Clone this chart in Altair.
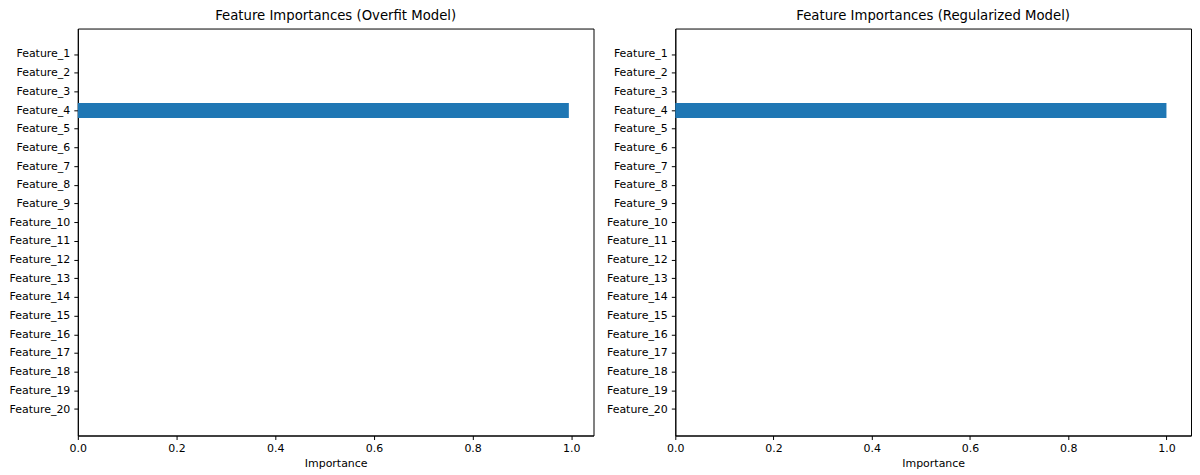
import altair as alt
import pandas as pd

features = [f"Feature_{i}" for i in range(1, 21)]
overfit_importance = [0.0, 0.0, 0.0, 0.995, 0.0, 0.0, 0.0, 0.0, 0.0, 0.0,
                      0.0, 0.0, 0.0, 0.0, 0.0, 0.0, 0.0, 0.0, 0.0, 0.0]
regularized_importance = [0.0, 0.0, 0.0, 1.0, 0.0, 0.0, 0.0, 0.0, 0.0, 0.0,
                          0.0, 0.0, 0.0, 0.0, 0.0, 0.0, 0.0, 0.0, 0.0, 0.0]
tick_values = [0.0, 0.2, 0.4, 0.6, 0.8, 1.0]

FONT = "DejaVu Sans"


def panel(values, title, xmax):
    df = pd.DataFrame({"Feature": features, "Importance": values})
    return alt.Chart(df).mark_bar(color="#1f77b4").encode(
        x=alt.X(
            "Importance:Q",
            scale=alt.Scale(domain=[0, xmax], nice=False, zero=True),
            axis=alt.Axis(values=tick_values, format=".1f", title="Importance",
                          grid=False, tickSize=4, labelPadding=3, titlePadding=4,
                          labelFlush=False),
        ),
        y=alt.Y(
            "Feature:N",
            sort=features,
            scale=alt.Scale(paddingInner=0.2, paddingOuter=0.99),
            axis=alt.Axis(title=None, grid=False, tickSize=4, labelPadding=4),
        ),
    ).properties(
        width=517,
        height=408,
        title=alt.TitleParams(title, fontSize=13.3, fontWeight="normal",
                              font=FONT, color="black", offset=6),
    )


left = panel(overfit_importance, "Feature Importances (Overfit Model)", 1.045)
right = panel(regularized_importance, "Feature Importances (Regularized Model)", 1.05)

chart = alt.hconcat(left, right, spacing=11).properties(
    padding=0, background="white"
).configure_view(
    stroke="black", strokeWidth=1
).configure_axis(
    labelFont=FONT, titleFont=FONT, labelFontSize=11, titleFontSize=11,
    labelColor="black", titleColor="black", domainColor="black",
    tickColor="black", titleFontWeight="normal",
)

chart.save("out.html", embed_options={"renderer": "svg", "actions": False})
